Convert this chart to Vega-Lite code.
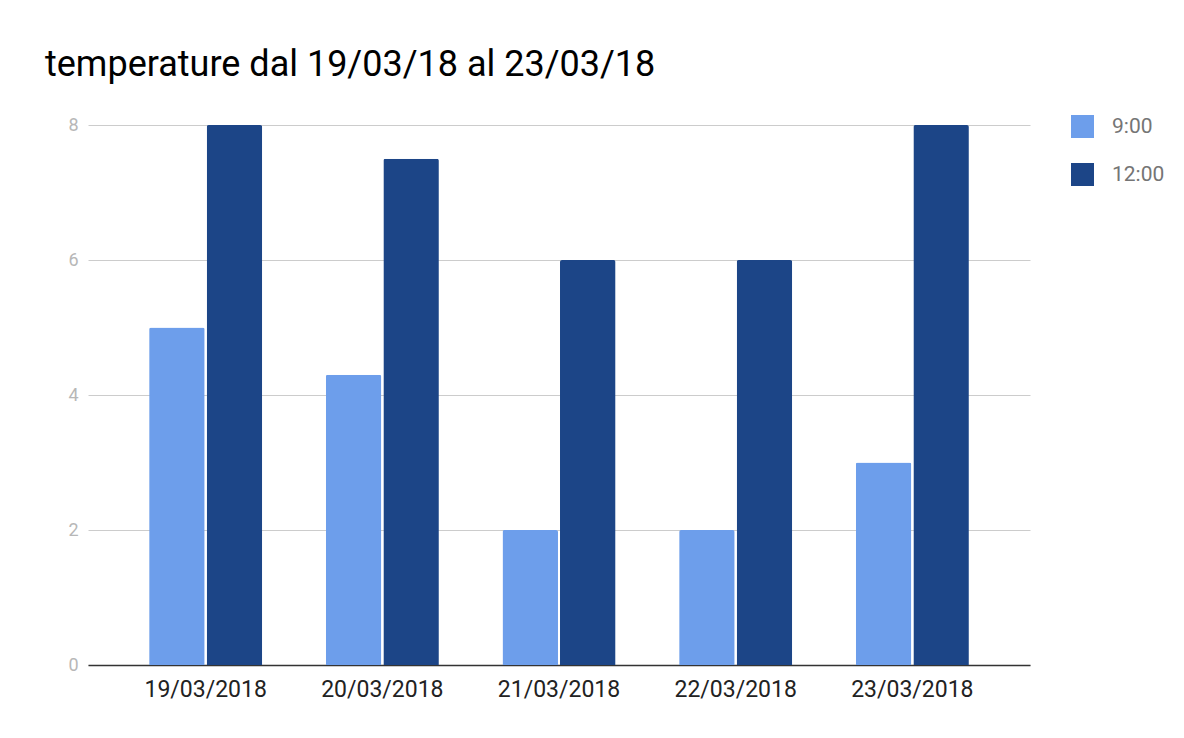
{
  "$schema": "https://vega.github.io/schema/vega-lite/v6.json",
  "width": 942,
  "height": 540,
  "autosize": {"type": "none"},
  "padding": {"left": 88, "top": 125, "right": 154, "bottom": 73},
  "background": "white",
  "title": {
    "text": "temperature dal 19/03/18 al 23/03/18",
    "anchor": "start",
    "frame": "group",
    "font": "Roboto",
    "fontSize": 36,
    "fontWeight": "normal",
    "color": "#000000",
    "dx": -43,
    "offset": 31
  },
  "data": {
    "values": [
      {"data": "19/03/2018", "ora": "9:00", "temperatura": 5},
      {"data": "19/03/2018", "ora": "12:00", "temperatura": 8},
      {"data": "20/03/2018", "ora": "9:00", "temperatura": 4.3},
      {"data": "20/03/2018", "ora": "12:00", "temperatura": 7.5},
      {"data": "21/03/2018", "ora": "9:00", "temperatura": 2},
      {"data": "21/03/2018", "ora": "12:00", "temperatura": 6},
      {"data": "22/03/2018", "ora": "9:00", "temperatura": 2},
      {"data": "22/03/2018", "ora": "12:00", "temperatura": 6},
      {"data": "23/03/2018", "ora": "9:00", "temperatura": 3},
      {"data": "23/03/2018", "ora": "12:00", "temperatura": 8}
    ]
  },
  "mark": {"type": "bar", "cornerRadiusTopLeft": 2, "cornerRadiusTopRight": 2},
  "encoding": {
    "x": {
      "field": "data",
      "type": "nominal",
      "sort": null,
      "scale": {"paddingInner": 0.36, "paddingOuter": 0.346},
      "axis": {
        "title": null,
        "labelAngle": 0,
        "labelFont": "Roboto",
        "labelFontSize": 23,
        "labelColor": "#222222",
        "labelPadding": 13,
        "ticks": false,
        "domainColor": "#333333",
        "domainWidth": 1.5,
        "grid": false
      }
    },
    "xOffset": {
      "field": "ora",
      "type": "nominal",
      "sort": ["9:00", "12:00"],
      "scale": {"paddingInner": 0.035}
    },
    "y": {
      "field": "temperatura",
      "type": "quantitative",
      "scale": {"domain": [0, 8], "nice": false},
      "axis": {
        "title": null,
        "values": [0, 2, 4, 6, 8],
        "labelFont": "Roboto",
        "labelFontSize": 18,
        "labelColor": "#b7b7b7",
        "labelPadding": 10,
        "ticks": false,
        "domain": false,
        "gridColor": "#cccccc",
        "gridWidth": 1
      }
    },
    "color": {
      "field": "ora",
      "type": "nominal",
      "sort": ["9:00", "12:00"],
      "scale": {"domain": ["9:00", "12:00"], "range": ["#6d9eeb", "#1c4587"]},
      "legend": {
        "title": null,
        "orient": "none",
        "legendX": 983,
        "legendY": -10,
        "symbolType": "square",
        "symbolSize": 529,
        "symbolStrokeWidth": 0,
        "labelFont": "Roboto",
        "labelFontSize": 21,
        "labelColor": "#757575",
        "labelOffset": 18,
        "rowPadding": 25
      }
    }
  },
  "config": {
    "view": {"stroke": null}
  }
}
